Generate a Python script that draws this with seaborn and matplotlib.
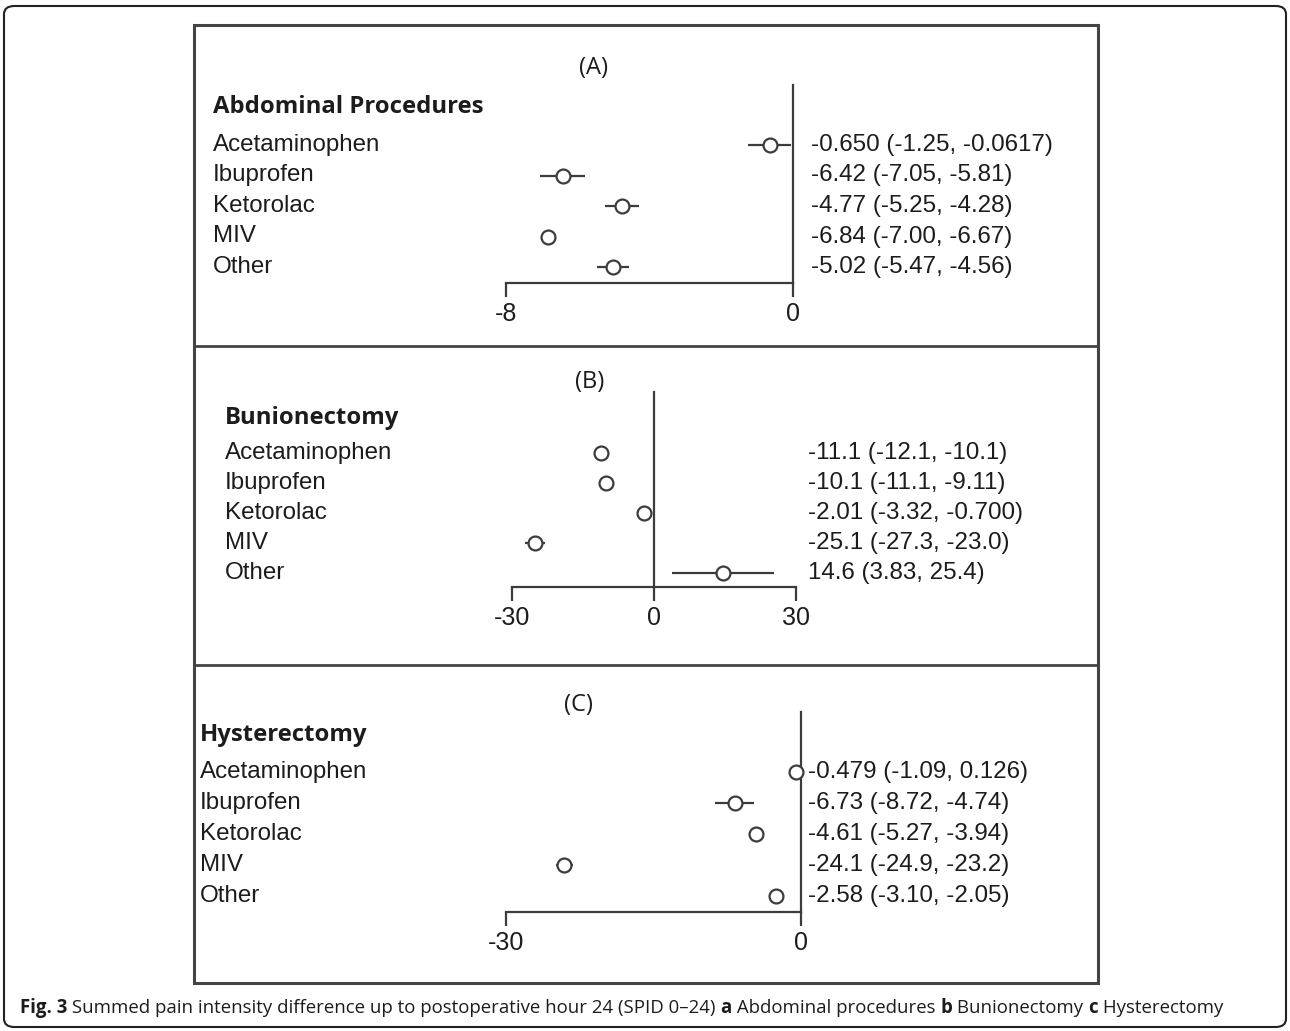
import matplotlib
matplotlib.use("Agg")
import matplotlib.pyplot as plt
import matplotlib.patches as mpatches
import pandas as pd
import seaborn as sns

sns.set_style("white")
plt.rcParams['font.family'] = ['Liberation Sans', 'DejaVu Sans']

W, H = 1290, 1031

# --- data ---
drugs = ["Acetaminophen", "Ibuprofen", "Ketorolac", "MIV", "Other"]

abd_est = [-0.650, -6.42, -4.77, -6.84, -5.02]
abd_lo = [-1.25, -7.05, -5.25, -7.00, -5.47]
abd_hi = [-0.0617, -5.81, -4.28, -6.67, -4.56]
abd_txt = ["-0.650 (-1.25, -0.0617)", "-6.42 (-7.05, -5.81)", "-4.77 (-5.25, -4.28)",
           "-6.84 (-7.00, -6.67)", "-5.02 (-5.47, -4.56)"]

bun_est = [-11.1, -10.1, -2.01, -25.1, 14.6]
bun_lo = [-12.1, -11.1, -3.32, -27.3, 3.83]
bun_hi = [-10.1, -9.11, -0.700, -23.0, 25.4]
bun_txt = ["-11.1 (-12.1, -10.1)", "-10.1 (-11.1, -9.11)", "-2.01 (-3.32, -0.700)",
           "-25.1 (-27.3, -23.0)", "14.6 (3.83, 25.4)"]

hys_est = [-0.479, -6.73, -4.61, -24.1, -2.58]
hys_lo = [-1.09, -8.72, -5.27, -24.9, -3.10]
hys_hi = [0.126, -4.74, -3.94, -23.2, -2.05]
hys_txt = ["-0.479 (-1.09, 0.126)", "-6.73 (-8.72, -4.74)", "-4.61 (-5.27, -3.94)",
           "-24.1 (-24.9, -23.2)", "-2.58 (-3.10, -2.05)"]

panels = [
    dict(tag="(A)", title="Abdominal Procedures", est=abd_est, lo=abd_lo, hi=abd_hi, txt=abd_txt,
         xlim=(-8, 0), ticks=[-8, 0], px=(506, 793), rows=(145, 30.5), spine=283, top=85,
         lab_x=213, head=(213, 107), tag_xy=(593, 68), val_x=811),
    dict(tag="(B)", title="Bunionectomy", est=bun_est, lo=bun_lo, hi=bun_hi, txt=bun_txt,
         xlim=(-30, 30), ticks=[-30, 0, 30], px=(512, 796), rows=(453, 30), spine=587, top=392,
         lab_x=225, head=(225, 418), tag_xy=(590, 382), val_x=808),
    dict(tag="(C)", title="Hysterectomy", est=hys_est, lo=hys_lo, hi=hys_hi, txt=hys_txt,
         xlim=(-30, 0), ticks=[-30, 0], px=(506, 801), rows=(772, 31), spine=912, top=712,
         lab_x=200, head=(200, 735), tag_xy=(578, 705), val_x=808),
]

fig = plt.figure(figsize=(W / 100, H / 100), dpi=100)

line_col = "#3c3c3c"
text_col = "#1c1c1c"
fs = 17.4

for p in panels:
    y0, d = p["rows"]
    x_lo, x_hi = p["px"]
    ax = fig.add_axes([x_lo / W, 1 - p["spine"] / H, (x_hi - x_lo) / W, (p["spine"] - p["top"]) / H])
    df = pd.DataFrame({"drug": drugs, "est": p["est"], "lo": p["lo"], "hi": p["hi"],
                       "pos": range(len(drugs))})
    ax.hlines(df["pos"], df["lo"], df["hi"], color=line_col, lw=1.6, zorder=2, clip_on=False)
    sns.scatterplot(data=df, x="est", y="pos", ax=ax, marker="o", s=100, color="white",
                    edgecolor=line_col, linewidth=1.6, zorder=3, clip_on=False, legend=False)
    ax.set_xlim(*p["xlim"])
    ax.set_ylim((p["spine"] - y0) / d, (p["top"] - y0) / d)
    ax.set_xticks(p["ticks"])
    ax.set_xticklabels([str(t) for t in p["ticks"]], fontsize=18, color=text_col)
    ax.set_yticks([])
    ax.set_xlabel("")
    ax.set_ylabel("")
    sns.despine(ax=ax, top=True, right=True)
    ax.spines["left"].set_position(("data", 0))
    for s in ["left", "bottom"]:
        ax.spines[s].set_color(line_col)
        ax.spines[s].set_linewidth(1.6)
    ax.tick_params(axis="x", bottom=True, direction="out", length=10, width=1.6,
                   color=line_col, pad=4)
    ax.patch.set_alpha(0)

    for i, (name, t) in enumerate(zip(drugs, p["txt"])):
        ax.annotate(name, xy=(p["lab_x"], i), xycoords=("figure pixels", "data"),
                    ha="left", va="center", fontsize=fs, color=text_col)
        ax.annotate(t, xy=(p["val_x"], i), xycoords=("figure pixels", "data"),
                    ha="left", va="center", fontsize=fs, color=text_col)

    hx, hy = p["head"]
    fig.text(hx / W, 1 - hy / H, p["title"], ha="left", va="center", fontsize=17.2,
             fontweight="bold", family="Open Sans", color=text_col)
    tx, ty = p["tag_xy"]
    fig.text(tx / W, 1 - ty / H, p["tag"], ha="center", va="center", fontsize=17,
             family="Open Sans", color=text_col)

# inner frame and separators
fig.patches.append(mpatches.Rectangle((194 / W, 1 - 983 / H), (1098 - 194) / W, (983 - 25) / H,
                                      transform=fig.transFigure, fill=False, ec="#444444", lw=2.2))
for ys in [346, 665]:
    fig.add_artist(plt.Line2D([194 / W, 1098 / W], [1 - ys / H, 1 - ys / H],
                              transform=fig.transFigure, color="#444444", lw=2))

# outer rounded border
fig.patches.append(mpatches.FancyBboxPatch((4 / W, 4 / H), (W - 8) / W, (H - 10) / H,
                                           boxstyle="round,pad=0,rounding_size=0.008",
                                           transform=fig.transFigure, fill=False, ec="#222222", lw=1.5))

# caption with mixed bold / regular pieces
pieces = [("Fig. 3", "bold"), (" Summed pain intensity difference up to postoperative hour 24 (SPID 0\u201324) ", "normal"),
          ("a", "bold"), (" Abdominal procedures ", "normal"), ("b", "bold"), (" Bunionectomy ", "normal"),
          ("c", "bold"), (" Hysterectomy", "normal")]
fig.canvas.draw()
renderer = fig.canvas.get_renderer()
x = 20
for s, wgt in pieces:
    t = fig.text(x / W, 1 - 1008 / H, s, ha="left", va="center", fontsize=13.45, fontweight=wgt,
                 family="Open Sans", color=text_col)
    bb = t.get_window_extent(renderer)
    x += bb.width

fig.savefig("out.png", dpi=100)
